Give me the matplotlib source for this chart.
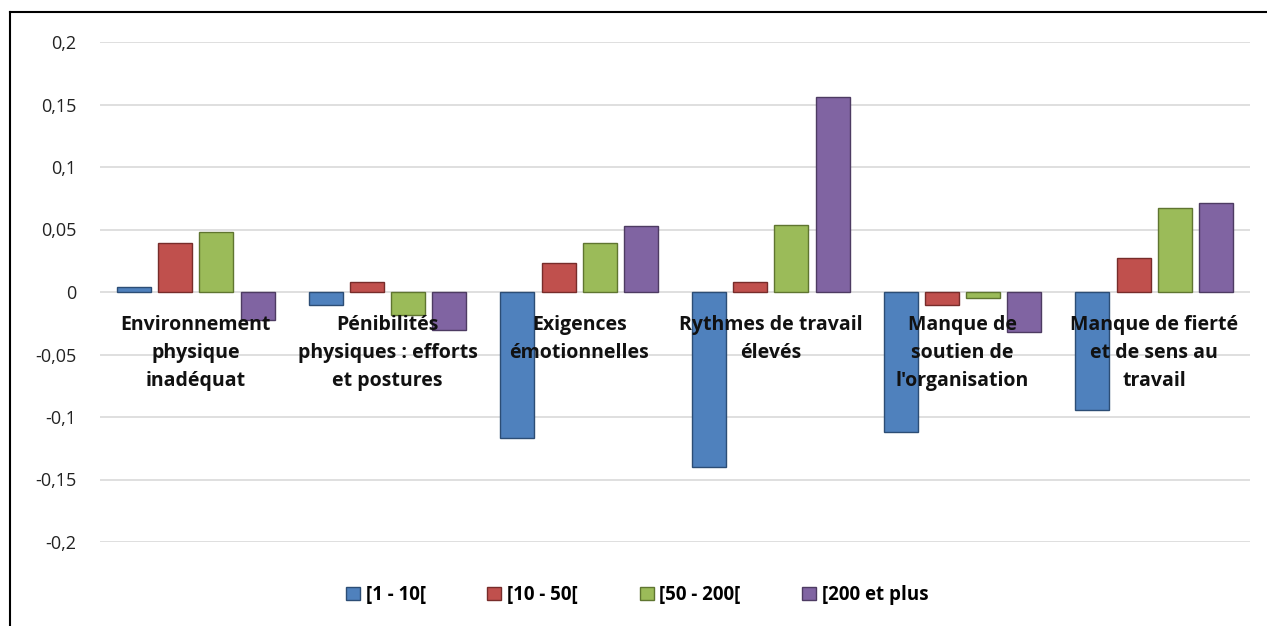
import matplotlib
matplotlib.use("Agg")
import matplotlib.pyplot as plt
import numpy as np
from matplotlib.patches import Rectangle
from matplotlib.lines import Line2D

categories = ["Environnement\nphysique\ninadéquat",
              "Pénibilités\nphysiques : efforts\net postures",
              "Exigences\némotionnelles",
              "Rythmes de travail\nélevés",
              "Manque de\nsoutien de\nl'organisation",
              "Manque de fierté\net de sens au\ntravail"]
series_names = ["[1 - 10[", "[10 - 50[", "[50 - 200[", "[200 et plus"]
s1 = [0.004, -0.010, -0.117, -0.140, -0.112, -0.094]
s2 = [0.039, 0.008, 0.023, 0.008, -0.010, 0.027]
s3 = [0.048, -0.018, 0.039, 0.054, -0.005, 0.067]
s4 = [-0.022, -0.030, 0.053, 0.156, -0.032, 0.071]
yticks = [0.2, 0.15, 0.1, 0.05, 0, -0.05, -0.1, -0.15, -0.2]
ytick_labels = ["0,2", "0,15", "0,1", "0,05", "0", "-0,05", "-0,1", "-0,15", "-0,2"]

colors = ["#4F81BD", "#C0504D", "#9BBB59", "#8064A2"]
edges = ["#2C4D75", "#772C2A", "#5F7530", "#4D3B62"]

plt.rcParams['font.family'] = ['Open Sans', 'DejaVu Sans']

W, H = 1267, 626
fig = plt.figure(figsize=(W/100, H/100), dpi=100)
ax = fig.add_axes([100/W, 1-542/H, 1150/W, 500/H])

x = np.arange(len(categories))
pitch = 0.215
width = 0.178
for i, (vals, c, e, name) in enumerate(zip([s1, s2, s3, s4], colors, edges, series_names)):
    pos = x + (i - 1.5) * pitch
    ax.bar(pos, vals, width=width, color=c, edgecolor=e, linewidth=1.0, label=name, zorder=3)

ax.set_xlim(-0.5, len(categories) - 0.5)
ax.set_ylim(-0.2, 0.2)
ax.set_yticks(yticks)
ax.set_yticklabels(ytick_labels, fontsize=13, color="#222222")
ax.tick_params(axis='y', length=0, pad=17)
ax.set_xticks([])
ax.grid(axis='y', color="#D9D9D9", linewidth=1.2, zorder=0)
for s in ax.spines.values():
    s.set_visible(False)

for xi, lab in zip(x, categories):
    ax.text(xi, -0.0185, lab, ha='center', va='top', fontsize=14, fontweight='bold',
            linespacing=1.52, zorder=5, color="#111111")

handles = [Rectangle((0, 0), 1, 1, facecolor=c, edgecolor=e, linewidth=1) for c, e in zip(colors, edges)]
fig.legend(handles, series_names, loc='center', bbox_to_anchor=(0.503, 1-595/H), ncol=4,
           frameon=False, prop={'weight': 'bold', 'size': 13.5}, handlelength=0.75, handleheight=0.75,
           handletextpad=0.3, columnspacing=3.3)

fig.add_artist(Line2D([10/W, 10/W], [0, 1-12/H], color='black', linewidth=1.5))
fig.add_artist(Line2D([10/W, 1], [1-12/H, 1-12/H], color='black', linewidth=1.5))

fig.savefig("out.png", dpi=100)
